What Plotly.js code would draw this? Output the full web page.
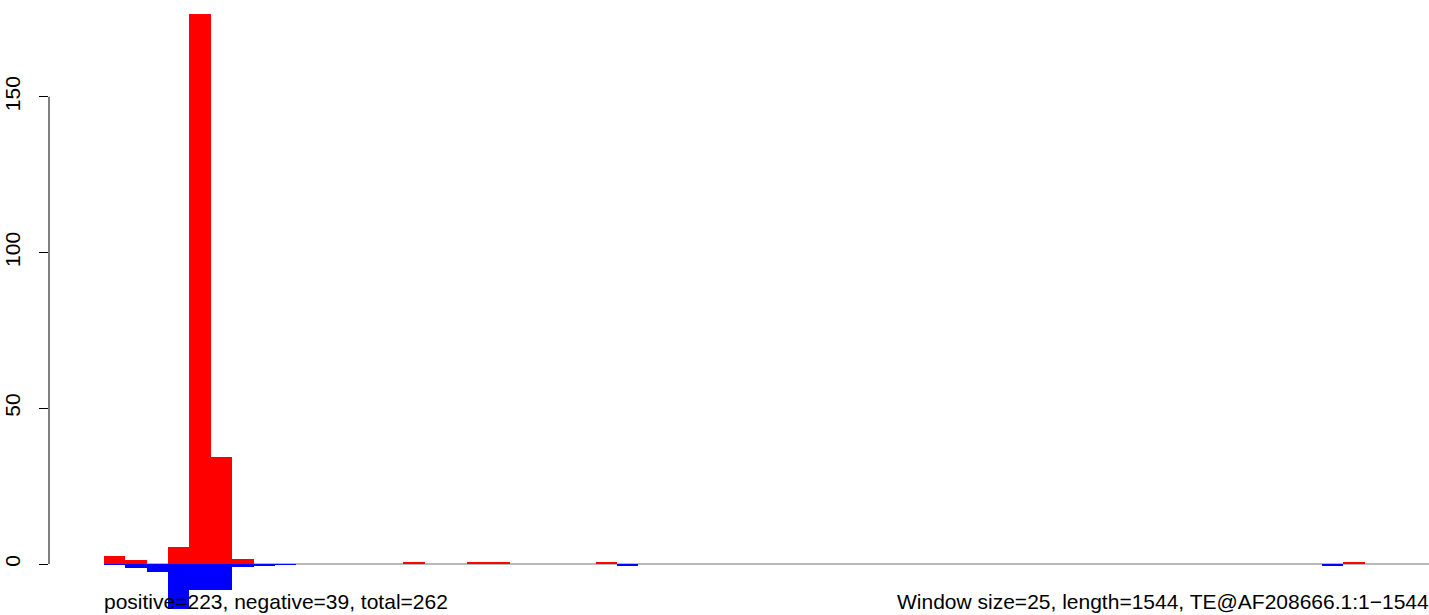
<!DOCTYPE html>
<html>
<head>
<meta charset="utf-8">
<script src="https://cdn.plot.ly/plotly-3.0.1.min.js"></script>
<style>html,body{margin:0;padding:0;background:#fff;}#chart{width:1429px;height:615px;}</style>
</head>
<body>
<div id="chart"></div>
<script>
// Window size 25 bp, sequence length 1544 -> 62 windows
var windowSize = 25;
var seqLength = 1544;
var positiveCounts = [2.6, 1.3, 0, 5.5, 176.7, 34.4, 1.6, 0, 0, 0,
                      0, 0, 0, 0, 0.5, 0, 0, 0.5, 0.5, 0,
                      0, 0, 0, 0.5, 0, 0, 0, 0, 0, 0,
                      0, 0, 0, 0, 0, 0, 0, 0, 0, 0,
                      0, 0, 0, 0, 0, 0, 0, 0, 0, 0,
                      0, 0, 0, 0, 0, 0, 0, 0, 0.5, 0,
                      0, 0];
var negativeCounts = [0.3, 1.4, 2.5, 14.6, 8.3, 8.3, 1.1, 0.6, 0.4, 0,
                      0, 0, 0, 0, 0, 0, 0, 0, 0, 0,
                      0, 0, 0, 0, 0.5, 0, 0, 0, 0, 0,
                      0, 0, 0, 0, 0, 0, 0, 0, 0, 0,
                      0, 0, 0, 0, 0, 0, 0, 0, 0, 0,
                      0, 0, 0, 0, 0, 0, 0, 0.5, 0, 0,
                      0, 0];
var yTicks = [0, 50, 100, 150];
var leftLabel = "positive=223, negative=39, total=262";
var rightLabel = "Window size=25, length=1544, TE@AF208666.1:1\u22121544";

var centers = positiveCounts.map(function(_, i){ return windowSize * i + windowSize / 2; });
var negVals = negativeCounts.map(function(v){ return -v; });

var font = "Liberation Sans, Arial, Helvetica, sans-serif";

var traces = [
  {type: 'bar', x: centers, y: positiveCounts, width: windowSize,
   marker: {color: '#FF0000', line: {width: 0}}, hoverinfo: 'skip'},
  {type: 'bar', x: centers, y: negVals, width: windowSize,
   marker: {color: '#0000FF', line: {width: 0}}, hoverinfo: 'skip'}
];

var pxPerBp = 21.37 / 25;
var xLeft = -(104 - 49) / pxPerBp;
var xRight = xLeft + (1429 - 49) / pxPerBp;

var layout = {
  width: 1429, height: 615,
  margin: {l: 49, r: 0, t: 0, b: 0},
  paper_bgcolor: '#fff', plot_bgcolor: '#fff',
  showlegend: false,
  barmode: 'relative',
  bargap: 0,
  xaxis: {range: [xLeft, xRight], visible: false, showgrid: false, zeroline: false, fixedrange: true},
  yaxis: {range: [-16.37, 181.06], showgrid: false, zeroline: false, showline: false,
          tickmode: 'array', tickvals: yTicks, ticktext: yTicks.map(String),
          ticks: 'outside', ticklen: 9, tickwidth: 1, tickcolor: '#000',
          ticklabelstandoff: 11,
          tickangle: -90, tickfont: {family: font, size: 21, color: '#000'}, fixedrange: true},
  shapes: [
    {type: 'line', xref: 'paper', yref: 'y', x0: 0, x1: 0, y0: yTicks[0], y1: yTicks[yTicks.length-1],
     line: {color: '#000', width: 1}},
    {type: 'line', xref: 'x', yref: 'y', x0: 0, x1: xRight, y0: 0, y1: 0,
     line: {color: '#707070', width: 1}, layer: 'below'}
  ],
  annotations: [
    {text: leftLabel, xref: 'x', yref: 'paper', x: 0, y: 0, xanchor: 'left', yanchor: 'bottom',
     xshift: -2, yshift: 0, showarrow: false, font: {family: font, size: 21, color: '#000'}},
    {text: rightLabel, xref: 'paper', yref: 'paper', x: 1, y: 0, xanchor: 'right', yanchor: 'bottom',
     xshift: 2, showarrow: false, font: {family: font, size: 21, color: '#000'}}
  ]
};

Plotly.newPlot('chart', traces, layout, {displayModeBar: false, staticPlot: true});
</script>
</body>
</html>
